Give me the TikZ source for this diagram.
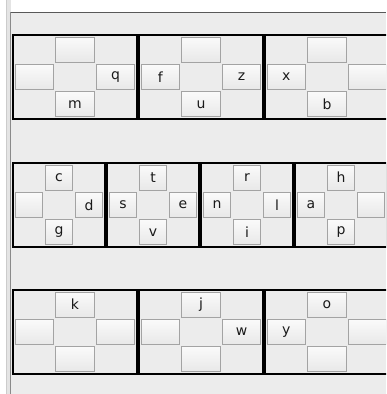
\documentclass[tikz,border=0pt]{standalone}
\usepackage{fontspec}
\setmainfont{DejaVu Sans}
\definecolor{panelbg}{HTML}{ECECEC}
\definecolor{btnborder}{HTML}{A3A3A3}
\definecolor{btntop}{HTML}{FAFAFA}
\definecolor{btnbot}{HTML}{E8E8E8}
\definecolor{txt}{HTML}{1A1A1A}
\definecolor{edgegray}{HTML}{8A8A8A}
\definecolor{stripgray}{HTML}{E4E4E4}
\tikzset{
  frame/.style={draw=black, line width=2pt, rectangle, inner sep=0pt, outer sep=0pt},
  btn/.style={draw=btnborder, line width=1pt, rectangle, inner sep=0pt, outer sep=0pt,
    top color=btntop, bottom color=btnbot, text=txt,
    font=\fontsize{14}{14}\selectfont},
}
% #1 name, #2 x0, #3 y0, #4 width, #5 top, #6 left, #7 right, #8 bottom
\newcommand\plusbox[8]{%
  \pgfmathsetmacro\pbcw{(#4-4)/3}%
  \pgfmathsetmacro\pbch{(86-4)/3}%
  \pgfmathsetmacro\pbbw{\pbcw-2.5}%
  \pgfmathsetmacro\pbbh{\pbch-2.5}%
  \pgfmathsetmacro\pbxa{#2+2+0.5*\pbcw}%
  \pgfmathsetmacro\pbxb{#2+2+1.5*\pbcw}%
  \pgfmathsetmacro\pbxc{#2+2+2.5*\pbcw}%
  \pgfmathsetmacro\pbya{#3+2+0.5*\pbch}%
  \pgfmathsetmacro\pbyb{#3+2+1.5*\pbch}%
  \pgfmathsetmacro\pbyc{#3+2+2.5*\pbch}%
  \pgfmathsetmacro\pbfx{#2+#4/2}%
  \pgfmathsetmacro\pbfy{#3+43}%
  \node[frame, minimum width=#4pt-2pt, minimum height=84pt] (#1) at (\pbfx,\pbfy) {};
  \node[btn, minimum width=\pbbw pt, minimum height=\pbbh pt] (#1-t) at (\pbxb,\pbya) {#5};
  \node[btn, minimum width=\pbbw pt, minimum height=\pbbh pt] (#1-l) at (\pbxa,\pbyb) {#6};
  \node[btn, minimum width=\pbbw pt, minimum height=\pbbh pt] (#1-r) at (\pbxc,\pbyb) {#7};
  \node[btn, minimum width=\pbbw pt, minimum height=\pbbh pt] (#1-b) at (\pbxb,\pbyc) {#8};
}
\begin{document}
\begin{tikzpicture}[x=1pt,y=-1pt]
\useasboundingbox (0,0) rectangle (386,394);
\clip (0,0) rectangle (386,394);
\fill[white] (0,0) rectangle (386,394);
\fill[stripgray] (6,0) rectangle (11,394);
\draw[draw=lightgray!80, line width=0.8pt] (6.5,0) -- (6.5,394);
\fill[panelbg] (10.5,12.5) rectangle (386,394);
\draw[edgegray, line width=1pt] (10.5,12) -- (10.5,394);
\draw[black!65, line width=1.5pt] (10.5,12.5) -- (386,12.5);
% row 1
\plusbox{ra}{12}{34}{126}{}{}{q}{m}
\plusbox{rb}{138}{34}{126}{}{f}{z}{u}
\plusbox{rc}{264}{34}{126}{}{x}{}{b}
% row 2
\plusbox{sa}{12}{162}{94}{c}{}{d}{g}
\plusbox{sb}{106}{162}{94}{t}{s}{e}{v}
\plusbox{sc}{200}{162}{94}{r}{n}{l}{i}
\plusbox{sd}{294}{162}{94}{h}{a}{}{p}
% row 3
\plusbox{ta}{12}{289}{126}{k}{}{}{}
\plusbox{tb}{138}{289}{126}{j}{}{w}{}
\plusbox{tc}{264}{289}{126}{o}{y}{}{}
\end{tikzpicture}
\end{document}
